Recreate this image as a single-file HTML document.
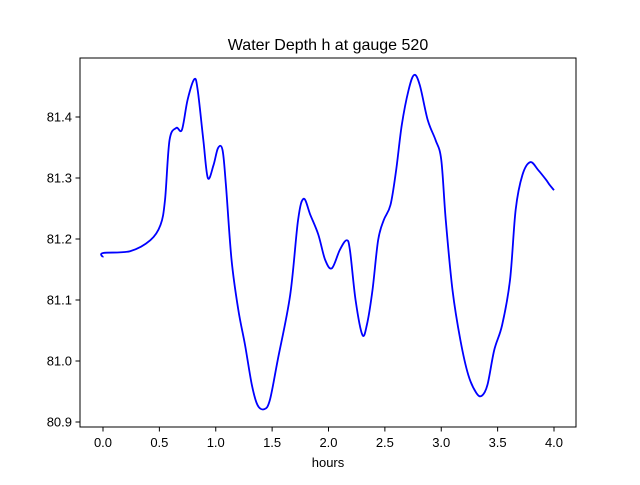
<!DOCTYPE html>
<html><head><meta charset="utf-8"><style>
body{margin:0;background:#fff;}
svg{font-family:"Liberation Sans","DejaVu Sans",sans-serif;}
</style></head><body>
<svg id="chart" width="640" height="480" xmlns="http://www.w3.org/2000/svg">
<rect x="0" y="0" width="640" height="480" fill="#fff"/>
<text x="328" y="50" font-size="16" text-anchor="middle">Water Depth h at gauge 520</text>
<g id="plot"></g>
<rect x="80" y="58" width="496" height="369" fill="none" stroke="#000" stroke-width="1"/>
<text x="328" y="467" font-size="13" text-anchor="middle">hours</text>
</svg>
<script>
const hours=[0,0.001,0.24,0.42,0.51,0.55,0.59,0.65,0.70,0.75,0.81,0.84,0.89,0.93,0.98,1.02,1.06,1.09,1.14,1.20,1.26,1.32,1.37,1.43,1.48,1.55,1.66,1.73,1.78,1.84,1.91,1.97,2.03,2.10,2.16,2.19,2.24,2.30,2.34,2.39,2.44,2.49,2.55,2.60,2.65,2.71,2.76,2.81,2.88,2.95,3.00,3.04,3.10,3.17,3.24,3.31,3.36,3.41,3.47,3.54,3.61,3.66,3.72,3.79,3.86,3.93,3.96,4.0];
const depth=[81.170,81.177,81.180,81.198,81.223,81.264,81.362,81.382,81.379,81.428,81.462,81.444,81.362,81.300,81.321,81.349,81.346,81.289,81.166,81.084,81.026,80.961,80.928,80.921,80.936,81.002,81.108,81.231,81.266,81.239,81.207,81.166,81.152,81.182,81.198,81.182,81.100,81.043,81.059,81.116,81.198,81.231,81.256,81.313,81.387,81.444,81.469,81.452,81.395,81.362,81.330,81.231,81.116,81.034,80.977,80.948,80.943,80.961,81.018,81.059,81.133,81.248,81.305,81.326,81.313,81.297,81.289,81.280];
const xTicks=[0.0,0.5,1.0,1.5,2.0,2.5,3.0,3.5,4.0];
const xTickLabels=["0.0","0.5","1.0","1.5","2.0","2.5","3.0","3.5","4.0"];
const yTicks=[80.9,81.0,81.1,81.2,81.3,81.4];
const yTickLabels=["80.9","81.0","81.1","81.2","81.3","81.4"];
function xs(t){return 103+t*112.75;}
function ys(v){return 117+(81.4-v)*610;}
const NS="http://www.w3.org/2000/svg";
const g=document.getElementById('plot');
xTicks.forEach((t,i)=>{
 const l=document.createElementNS(NS,'line');
 
 
 l.setAttribute('x1',xs(t));l.setAttribute('x2',xs(t));l.setAttribute('y1',427);l.setAttribute('y2',431.5);l.setAttribute('stroke','#000');
 g.appendChild(l);
 const tx=document.createElementNS(NS,'text');
 
 
 tx.setAttribute('x',xs(t));tx.setAttribute('y',447);tx.setAttribute('font-size','13');tx.setAttribute('text-anchor','middle');
 tx.textContent=xTickLabels[i];g.appendChild(tx);
});
yTicks.forEach((v,i)=>{
 const l=document.createElementNS(NS,'line');
 
 
 l.setAttribute('x1',75.5);l.setAttribute('x2',80);l.setAttribute('y1',ys(v));l.setAttribute('y2',ys(v));l.setAttribute('stroke','#000');
 g.appendChild(l);
 const tx=document.createElementNS(NS,'text');
 
 
 tx.setAttribute('x',72);tx.setAttribute('y',ys(v)+4.5);tx.setAttribute('font-size','13');tx.setAttribute('text-anchor','end');
 tx.textContent=yTickLabels[i];g.appendChild(tx);
});
const pts=hours.map((t,i)=>[xs(t),ys(depth[i])]);
let d='M'+pts[0][0]+','+pts[0][1];
for(let i=0;i<pts.length-1;i++){
 const p0=pts[Math.max(0,i-1)],p1=pts[i],p2=pts[i+1],p3=pts[Math.min(pts.length-1,i+2)];
 const c1x=p1[0]+(p2[0]-p0[0])/6,c1y=p1[1]+(p2[1]-p0[1])/6;
 const c2x=p2[0]-(p3[0]-p1[0])/6,c2y=p2[1]-(p3[1]-p1[1])/6;
 d+=' C'+c1x+','+c1y+' '+c2x+','+c2y+' '+p2[0]+','+p2[1];
}
const path=document.createElementNS(NS,'path');


path.setAttribute('d',d);path.setAttribute('fill','none');path.setAttribute('stroke','#0000ff');path.setAttribute('stroke-width','1.8');path.setAttribute('stroke-linejoin','round');
g.appendChild(path);
</script>
</body></html>
